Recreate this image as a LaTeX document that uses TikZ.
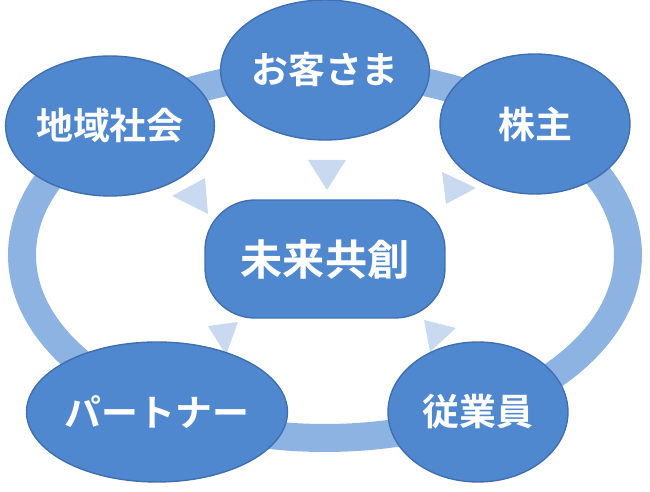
\documentclass[tikz,border=0pt]{standalone}
\usepackage{fontspec}
\newfontfamily\jpfont{Noto Sans CJK JP}[BoldFont={* Bold}]
\usetikzlibrary{shapes.geometric}
\definecolor{ringblue}{HTML}{8DB3E2}
\definecolor{nodeblue}{HTML}{5088D0}
\definecolor{edgeblue}{HTML}{3F6FB0}
\definecolor{tripale}{HTML}{C9DAF0}
\tikzset{
  party/.style={ellipse, fill=nodeblue, draw=edgeblue, line width=0.8pt,
    minimum width=3.8cm, minimum height=2.8cm, inner sep=0pt, text=white,
    font=\jpfont\bfseries\fontsize{21}{23}\selectfont},
  core/.style={rounded corners=1cm, fill=nodeblue, draw=edgeblue, line width=0.8pt,
    minimum width=4.8cm, minimum height=2.36cm, text=white,
    font=\jpfont\bfseries\fontsize{24}{26}\selectfont},
  tip/.style={fill=tripale}
}
\begin{document}
\begin{tikzpicture}[x=0.02cm,y=-0.02cm]
\useasboundingbox (0,0) rectangle (650,492);

%% Ring behind the nodes
\draw[ringblue, line width=0.56cm] (325,255) ellipse [x radius=303, y radius=183];

%% Triangles pointing to the centre
\fill[tip] (308,160) -- (346,160) -- (327,190) -- cycle;
\fill[tip] (172,196) -- (205,178) -- (208,214) -- cycle;
\fill[tip] (442,172) -- (476,188) -- (446,204) -- cycle;
\fill[tip] (208,326) -- (238,322) -- (226,355) -- cycle;
\fill[tip] (424,320) -- (456,328) -- (430,352) -- cycle;

%% Centre
\node[core] (mirai) at (325,259) {未来共創};

%% Stakeholders round the ring
\node[party] (kyaku) at (325,70) {お客さま};
\node[party] (kabu) at (535,124) {株主};
\node[party] (chiiki) at (110,126) {地域社会};
\node[party] (partner) at (157,412) {パートナー};
\node[party, minimum width=3.6cm] (jugyo) at (478,412) {従業員};

\end{tikzpicture}
\end{document}
